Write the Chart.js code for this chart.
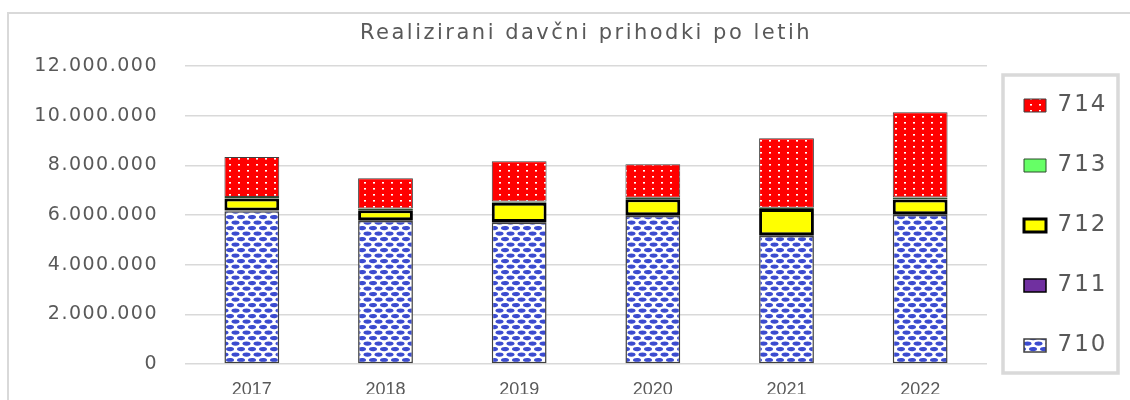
<!DOCTYPE html>
<html>
<head>
<meta charset="utf-8">
<script src="https://cdn.jsdelivr.net/npm/chart.js@4.4.0/dist/chart.umd.min.js"></script>
<style>
  html, body { margin: 0; padding: 0; background: #fff; overflow: hidden; }
  canvas { display: block; }
</style>
</head>
<body>
<canvas id="taxChart" width="1130" height="400"></canvas>
<script>
// ─── DATA ──────────────────────────────────────────────────
const YEARS = ['2017', '2018', '2019', '2020', '2021', '2022'];
const S710 = [6160000, 5760000, 5690000, 5960000, 5160000, 6000000];
const S711 = [30000, 30000, 30000, 30000, 30000, 30000];
const S712 = [480000, 410000, 780000, 650000, 1060000, 600000];
const S713 = [60000, 70000, 50000, 60000, 50000, 80000];
const S714 = [1610000, 1210000, 1620000, 1350000, 2800000, 3430000];
const Y_TICKS = [0, 2000000, 4000000, 6000000, 8000000, 10000000, 12000000];

const TEXT = '#595959';
const GRID = '#d9d9d9';

// ─── HELPERS ───────────────────────────────────────────────
function formatNum(n) {
  return String(n).replace(/\B(?=(\d{3})+(?!\d))/g, '.');
}

function makePattern(w, h, paint) {
  const c = document.createElement('canvas');
  c.width = w; c.height = h;
  paint(c.getContext('2d'));
  return document.getElementById('taxChart').getContext('2d').createPattern(c, 'repeat');
}

function blob(g, cx, cy) {
  g.beginPath();
  g.ellipse(cx, cy, 4, 2.1, 0, 0, Math.PI * 2);
  g.fill();
}

// blue brick-like "spheres" fill for 710
const bluePattern = makePattern(11, 11, g => {
  g.fillStyle = '#ffffff';
  g.fillRect(0, 0, 11, 11);
  g.fillStyle = '#3b4bcf';
  blob(g, 4.5, 2.6);
  blob(g, 10, 8.1);
  blob(g, -1, 8.1);
});

// red with small white dots for 714
const redPattern = makePattern(9, 6, g => {
  g.fillStyle = '#ff0000';
  g.fillRect(0, 0, 9, 6);
  g.fillStyle = '#ffffff';
  g.fillRect(4, 2, 2, 1);
  g.fillStyle = '#ff9a9a';
  g.fillRect(4, 3, 2, 1);
});

// ─── PLUGINS ───────────────────────────────────────────────
const framePlugin = {
  id: 'frame',
  beforeDraw(chart) {
    const ctx = chart.ctx;
    ctx.save();
    ctx.fillStyle = '#ffffff';
    ctx.fillRect(0, 0, chart.width, chart.height);
    ctx.strokeStyle = GRID;
    ctx.lineWidth = 2;
    ctx.strokeRect(8, 13, chart.width + 20, chart.height + 20);
    ctx.restore();
  },
  afterDraw(chart) {
    // grey box round the legend
    const lg = chart.legend;
    if (!lg || !lg.legendHitBoxes || !lg.legendHitBoxes.length) return;
    const boxes = lg.legendHitBoxes;
    const top = boxes[0].top - 19;
    const last = boxes[boxes.length - 1];
    const bottom = last.top + last.height + 16;
    const ctx = chart.ctx;
    ctx.save();
    ctx.strokeStyle = GRID;
    ctx.lineWidth = 3.5;
    ctx.strokeRect(lg.left + 16, top, lg.right - 12 - (lg.left + 16), bottom - top);
    ctx.restore();
  }
};

function withSpacing(obj, fnName, spacing) {
  const orig = obj[fnName];
  obj[fnName] = function (...args) {
    const ctx = this.ctx;
    const prev = ctx.letterSpacing;
    ctx.letterSpacing = spacing;
    orig.apply(this, args);
    ctx.letterSpacing = prev;
  };
}

// ─── CHART ─────────────────────────────────────────────────
const ctx = document.getElementById('taxChart').getContext('2d');
const chart = new Chart(ctx, {
  type: 'bar',
  data: {
    labels: YEARS,
    datasets: [
      { label: '710', data: S710, backgroundColor: bluePattern, borderColor: '#404040', borderWidth: 1.5 },
      { label: '711', data: S711, backgroundColor: '#7030a0', borderColor: '#000000', borderWidth: 1.5 },
      { label: '712', data: S712, backgroundColor: '#ffff00', borderColor: '#000000', borderWidth: 3 },
      { label: '713', data: S713, backgroundColor: '#66ff66', borderColor: '#2d4d2d', borderWidth: 1 },
      { label: '714', data: S714, backgroundColor: redPattern, borderColor: '#404040', borderWidth: 1 }
    ]
  },
  options: {
    responsive: false,
    animation: false,
    devicePixelRatio: 1,
    layout: { padding: { left: 0, right: 0, top: 0, bottom: 6 } },
    datasets: {
      bar: { barPercentage: 0.41, categoryPercentage: 1, borderSkipped: false }
    },
    plugins: {
      title: {
        display: true,
        text: 'Realizirani davčni prihodki po letih',
        fullSize: false,
        color: TEXT,
        font: { family: 'DejaVu Sans', size: 21, weight: 'normal' },
        padding: { top: 21, bottom: 20 }
      },
      legend: {
        position: 'right',
        align: 'end',
        reverse: true,
        labels: {
          color: TEXT,
          font: { family: 'DejaVu Sans', size: 23 },
          boxWidth: 22,
          boxHeight: 13,
          padding: 37
        }
      },
      tooltip: { enabled: false }
    },
    scales: {
      x: {
        stacked: true,
        grid: { display: false },
        border: { display: false },
        ticks: { color: TEXT, font: { family: 'Liberation Sans', size: 18 }, padding: 7 },
        afterFit: s => { s.height = 30; }
      },
      y: {
        stacked: true,
        min: Y_TICKS[0],
        max: Y_TICKS[Y_TICKS.length - 1],
        ticks: {
          stepSize: Y_TICKS[1] - Y_TICKS[0],
          color: TEXT,
          font: { family: 'DejaVu Sans', size: 19 },
          padding: 0,
          callback: v => formatNum(v)
        },
        // invisible tick marks keep the gap between labels and plot
        grid: { color: GRID, lineWidth: 1.5, drawTicks: true, tickLength: 27, tickColor: 'rgba(0,0,0,0)' },
        border: { display: false },
        afterFit: s => { s.width = 185; }
      }
    }
  },
  plugins: [framePlugin]
});

// ─── LEGEND WIDTH & TEXT SPACING ───────────────────────────
const origFit = chart.legend.fit;
chart.legend.fit = function () { origFit.call(this); this.width = 143; };
withSpacing(chart.legend, 'draw', '2px');
withSpacing(chart.titleBlock, 'draw', '2.5px');
withSpacing(chart.scales.y, 'drawLabels', '1.5px');
chart.update();
</script>
</body>
</html>
